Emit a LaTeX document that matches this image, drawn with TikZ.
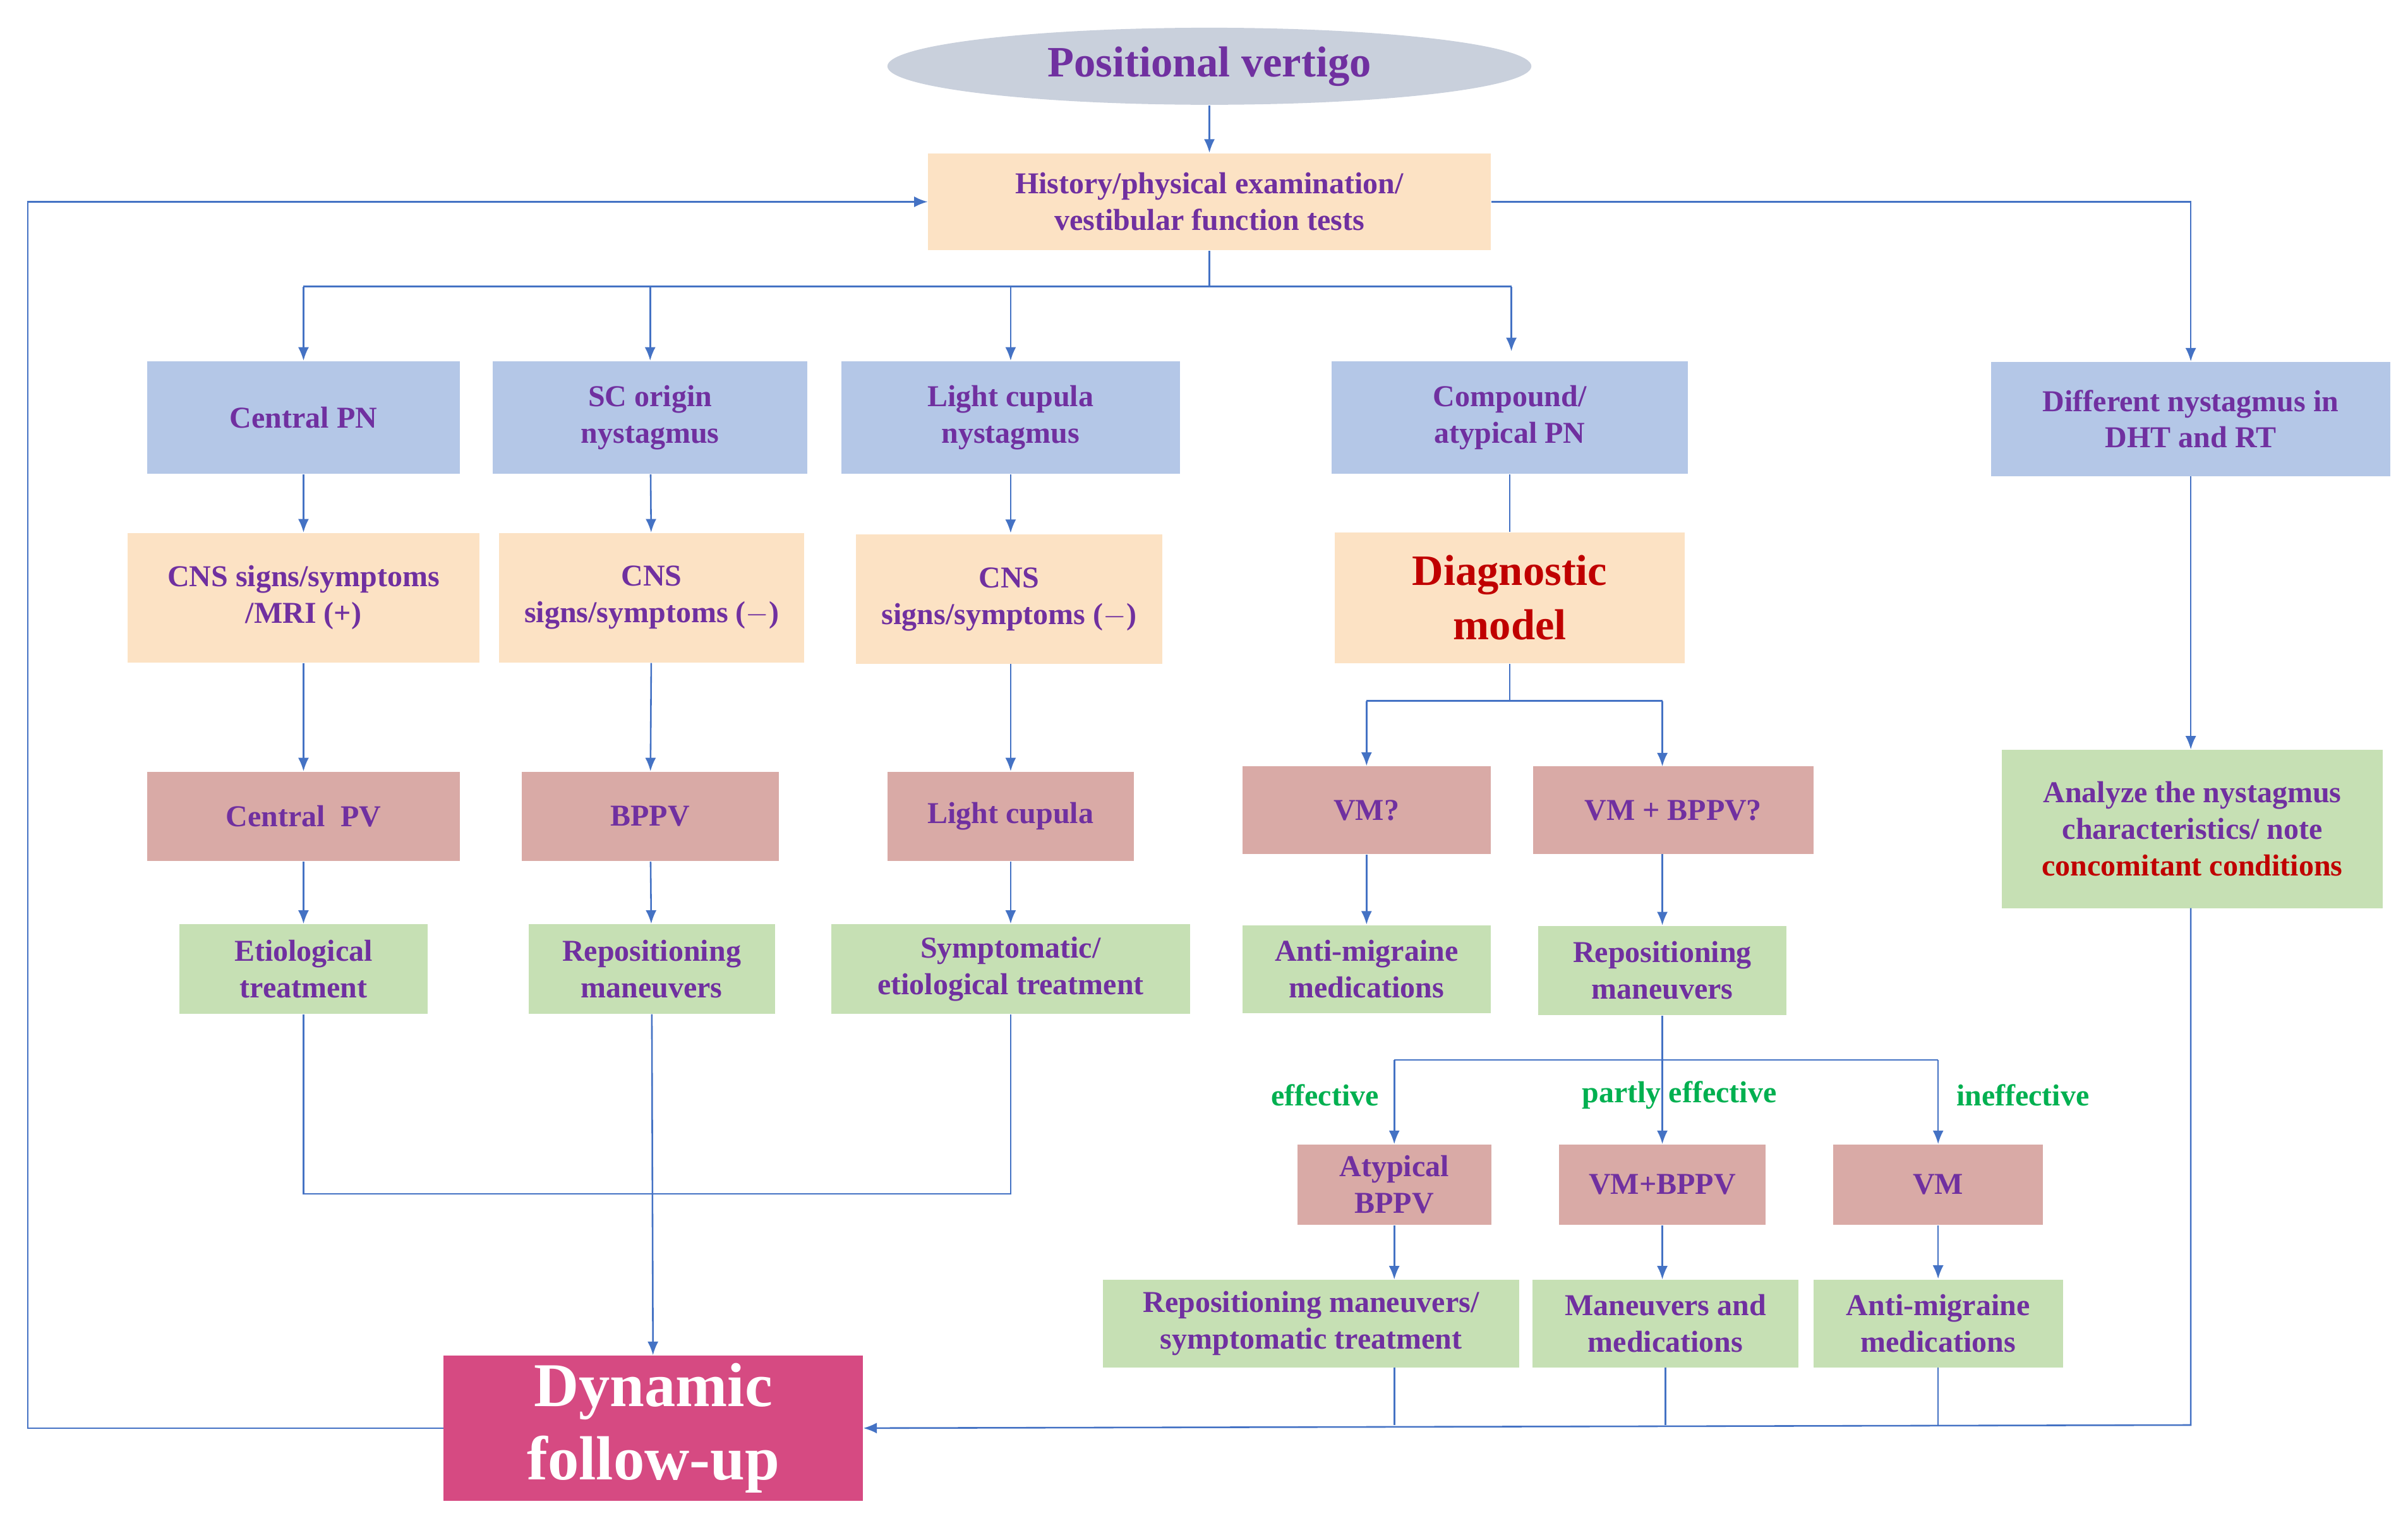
\documentclass[tikz,border=0pt]{standalone}
\usepackage{fontspec}
\setmainfont{Liberation Serif}
\usetikzlibrary{shapes.geometric,arrows.meta}
\definecolor{bl}{HTML}{B4C7E7}
\definecolor{or}{HTML}{FCE2C4}
\definecolor{pk}{HTML}{D9AAA6}
\definecolor{gr}{HTML}{C6E0B4}
\definecolor{el}{HTML}{C9D0DC}
\definecolor{dy}{HTML}{D64A82}
\definecolor{tx}{HTML}{7030A0}
\definecolor{ln}{HTML}{4472C4}
\definecolor{gt}{HTML}{00B050}
\definecolor{rd}{HTML}{C00000}
\begin{document}
\begin{tikzpicture}[x=0.02cm,y=-0.02cm,
 bx/.style={draw=none,inner sep=0pt,align=center,text=tx,font=\bfseries\fontsize{11.2}{13.5}\selectfont},
 B/.style={bx,fill=bl}, O/.style={bx,fill=or}, P/.style={bx,fill=pk}, G/.style={bx,fill=gr},
 ln/.style={draw=ln,line width=0.6pt},
 ar/.style={ln,-{Latex[length=5pt,width=4pt]}},
 lab/.style={text=gt,font=\bfseries\fontsize{11.2}{13.5}\selectfont}]
\useasboundingbox (0,0) rectangle (1563,984);
\node[ellipse,fill=el,minimum width=418*0.02cm,minimum height=50*0.02cm,inner sep=0pt,text=tx,font=\bfseries\fontsize{16}{18}\selectfont] (pv) at (785,43) {Positional vertigo};
\node[O,minimum width=365*0.02cm,minimum height=63*0.02cm] (h) at (785,131) {History/physical examination/\\vestibular function tests};
\node[B,minimum width=203*0.02cm,minimum height=73*0.02cm] (c1) at (197,271) {Central PN};
\node[B,minimum width=204*0.02cm,minimum height=73*0.02cm] (c2) at (422,271) {SC origin\\nystagmus};
\node[B,minimum width=220*0.02cm,minimum height=73*0.02cm] (c3) at (656,271) {Light cupula\\nystagmus};
\node[B,minimum width=231*0.02cm,minimum height=73*0.02cm] (c4) at (980,271) {Compound/\\atypical PN};
\node[B,minimum width=259*0.02cm,minimum height=74*0.02cm] (c5) at (1422,272) {Different nystagmus in\\DHT and RT};
\node[O,minimum width=228*0.02cm,minimum height=84*0.02cm] (o1) at (197,388) {CNS signs/symptoms\\/MRI (+)};
\node[O,minimum width=198*0.02cm,minimum height=84*0.02cm] (o2) at (423,388) {CNS\\signs/symptoms ($-$)};
\node[O,minimum width=199*0.02cm,minimum height=84*0.02cm] (o3) at (655,389) {CNS\\signs/symptoms ($-$)};
\node[O,minimum width=227*0.02cm,minimum height=85*0.02cm,text=rd,font=\bfseries\fontsize{16}{20}\selectfont] (dm) at (980,388) {Diagnostic\\model};
\node[P,minimum width=203*0.02cm,minimum height=58*0.02cm] (p1) at (197,530) {Central\ \ PV};
\node[P,minimum width=167*0.02cm,minimum height=58*0.02cm] (p2) at (422,530) {BPPV};
\node[P,minimum width=160*0.02cm,minimum height=58*0.02cm] (p3) at (656,530) {Light cupula};
\node[P,minimum width=161*0.02cm,minimum height=57*0.02cm] (p4) at (887,526) {VM?};
\node[P,minimum width=182*0.02cm,minimum height=57*0.02cm] (p5) at (1086,526) {VM + BPPV?};
\node[G,minimum width=247*0.02cm,minimum height=103*0.02cm] (an) at (1423,538) {Analyze the nystagmus\\characteristics/ note\\\textcolor{rd}{concomitant conditions}};
\node[G,minimum width=161*0.02cm,minimum height=58*0.02cm] (g1) at (197,629) {Etiological\\treatment};
\node[G,minimum width=160*0.02cm,minimum height=58*0.02cm] (g2) at (423,629) {Repositioning\\maneuvers};
\node[G,minimum width=233*0.02cm,minimum height=58*0.02cm] (g3) at (656,629) {Symptomatic/\\etiological treatment};
\node[G,minimum width=161*0.02cm,minimum height=57*0.02cm] (g4) at (887,629) {Anti-migraine\\medications};
\node[G,minimum width=161*0.02cm,minimum height=58*0.02cm] (g5) at (1079,630) {Repositioning\\maneuvers};
\node[P,minimum width=126*0.02cm,minimum height=52*0.02cm] (q1) at (905,769) {Atypical\\BPPV};
\node[P,minimum width=134*0.02cm,minimum height=52*0.02cm] (q2) at (1079,769) {VM+BPPV};
\node[P,minimum width=136*0.02cm,minimum height=52*0.02cm] (q3) at (1258,769) {VM};
\node[G,minimum width=270*0.02cm,minimum height=57*0.02cm] (r1) at (851,859) {Repositioning maneuvers/\\symptomatic treatment};
\node[G,minimum width=173*0.02cm,minimum height=57*0.02cm] (r2) at (1081,859) {Maneuvers and\\medications};
\node[G,minimum width=162*0.02cm,minimum height=57*0.02cm] (r3) at (1258,859) {Anti-migraine\\medications};
\node[bx,fill=dy,text=white,minimum width=272*0.02cm,minimum height=94*0.02cm,font=\bfseries\fontsize{23}{27}\selectfont] (dy) at (424,927) {Dynamic\\follow-up};
\node[lab] at (860,711) {effective};
\node[lab] at (1090,711) {partly effective};
\node[lab] at (1313,711) {ineffective};
% connectors
\draw[ar] (pv) -- (h);
\coordinate (hb) at (785,186);
\draw[ln] (h.south) -- (hb);
\draw[ln] (197,186) -- (981,186);
\draw[ar] (197,186) -- (c1.north);
\draw[ar] (422,186) -- (c2.north);
\draw[ar] (656,186) -- (c3.north);
\draw[ar] (981,186) -- (981,228);
\draw[ar] (h.east) -| (c5.north);
\draw[ar] (dy.west) -- (18,927) |- (h.west);
\draw[ar] (c1) -- (o1); \draw[ar] (c2) -- (o2); \draw[ar] (656,308) -- (656,346);
\draw[ln] (c4) -- (dm);
\draw[ar] (o1) -- (p1); \draw[ar] (o2) -- (p2); \draw[ar] (656,431) -- (p3);
\draw[ar] (p1) -- (g1); \draw[ar] (p2) -- (g2); \draw[ar] (p3) -- (g3);
\draw[ln] (dm.south) -- (980,455);
\draw[ln] (887,455) -- (1079,455);
\draw[ar] (887,455) -- (p4.north);
\draw[ar] (1079,455) -- (1079,497.5);
\draw[ar] (p4) -- (g4);
\draw[ar] (1079,554.5) -- (g5.north);
\draw[ln] (g5.south) -- (1079,688);
\draw[ln] (905,688) -- (1258,688);
\draw[ar] (905,688) -- (q1.north);
\draw[ar] (1079,688) -- (q2.north);
\draw[ar] (1258,688) -- (q3.north);
\draw[ar] (q1) -- (905,830.5); \draw[ar] (q2) -- (1079,830.5); \draw[ar] (q3) -- (r3);
\draw[ar] (c5) -- (1422,486.5);
\draw[ln] (905,887.5) -- (905,925);
\draw[ln] (1081,887.5) -- (1081,925);
\draw[ln] (r3.south) -- (1258,925);
\draw[ar] (1422,589.5) -- (1422,925) -- (dy.east);
\draw[ln] (g1.south) -- (197,775) -- (656,775) -- (g3.south);
\draw[ar] (g2) -- (dy);
\end{tikzpicture}
\end{document}
